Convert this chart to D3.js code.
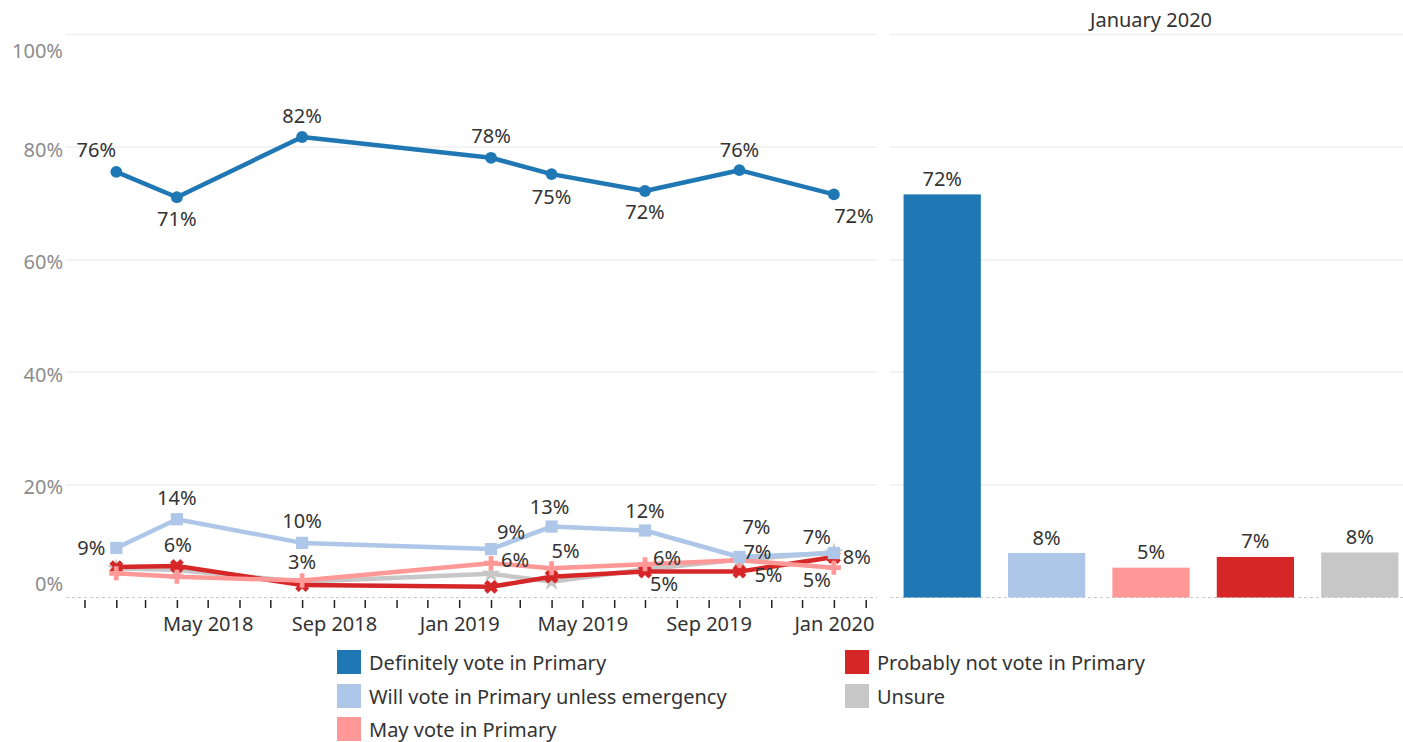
<!DOCTYPE html>
<html lang="en">
<head>
<meta charset="utf-8" />
<script src="https://d3js.org/d3.v7.min.js"></script>
<style>
  html, body { margin: 0; padding: 0; background: #fff; }
  svg { display: block; font-family: "Noto Sans", "Open Sans", sans-serif; }
</style>
</head>
<body>
<svg id="canvas" width="1403" height="742"></svg>
<script>
// survey months
var dates = ["2018-02-01", "2018-04-01", "2018-08-01", "2019-02-01", "2019-04-01", "2019-07-01", "2019-10-01", "2020-01-01"];

var seriesNames = ["Definitely vote in Primary", "Will vote in Primary unless emergency",
                   "May vote in Primary", "Probably not vote in Primary", "Unsure"];
var colors = ["#1f77b4", "#aec7e8", "#ff9896", "#d62728", "#c7c7c7"];

var definitely = [75.6, 71.1, 81.8, 78.1, 75.2, 72.2, 75.9, 71.6];
var unlessEmergency = [8.8, 13.9, 9.7, 8.6, 12.6, 11.9, 7.2, 7.9];
var mayVote = [4.3, 3.7, 3.0, 6.1, 5.2, 5.9, 6.6, 5.3];
var probablyNot = [5.4, 5.6, 2.2, 1.9, 3.7, 4.6, 4.6, 7.2];
var unsure = [5.2, 4.9, 2.8, 4.2, 2.8, 5.0, 6.7, 8.0];

var yTicks = [0, 20, 40, 60, 80, 100];

// which points carry a label: [series, point, dx, dy]
var labels = [
  [0, 0, -20, -22], [0, 1, 0, 21], [0, 2, 0, -21], [0, 3, 0, -22],
  [0, 4, 0, 22], [0, 5, 0, 20], [0, 6, 0, -21], [0, 7, 20, 21],
  [1, 0, -25, 0], [1, 1, 0, -22], [1, 2, 0, -22], [1, 3, 20, -18],
  [1, 4, -2, -20], [1, 5, 0, -20], [1, 6, 17, -30], [1, 7, 23, 3],
  [2, 2, 0, -19], [2, 3, 24, -4], [2, 4, 14, -18], [2, 5, 22, -7],
  [2, 6, 18, -9], [2, 7, -17, 12],
  [3, 1, 1, -21], [3, 5, 19, 12], [3, 6, 29, 3], [3, 7, -17, -20]
];

var values = [definitely, unlessEmergency, mayVote, probablyNot, unsure];
var parse = d3.timeParse("%Y-%m-%d");
var when = dates.map(parse);

var svg = d3.select("#canvas");

var y = d3.scaleLinear().domain([0, 100]).range([597.5, 34.5]);
var x = d3.scaleTime()
  .domain([parse("2017-12-14"), parse("2020-02-12")])
  .range([66, 877]);

var panels = [[66, 877], [890, 1403]];

// gridlines
panels.forEach(function(p) {
  svg.append("g").selectAll("line")
    .data(yTicks.filter(function(t) { return t > 0; }))
    .join("line")
    .attr("x1", p[0]).attr("x2", p[1])
    .attr("y1", function(d) { return y(d); })
    .attr("y2", function(d) { return y(d); })
    .attr("stroke", "#efefef")
    .attr("stroke-width", 1.5);
  svg.append("line")
    .attr("x1", p[0]).attr("x2", p[1])
    .attr("y1", y(0)).attr("y2", y(0))
    .attr("stroke", "#c8c8c8")
    .attr("stroke-dasharray", "3,3");
});

// y labels
svg.append("g").selectAll("text")
  .data(yTicks)
  .join("text")
  .attr("x", 63)
  .attr("y", function(d) { return y(d) + (d == 100 ? 16 : d == 0 ? -14 : 2); })
  .attr("text-anchor", "end")
  .attr("dominant-baseline", "central")
  .attr("fill", "#8c8c8c")
  .attr("font-size", 20)
  .text(function(d) { return d + "%"; });

// x axis
var fmt = d3.timeFormat("%b %Y");
var xAxis = d3.axisBottom(x)
  .ticks(d3.timeMonth.every(1))
  .tickSize(8)
  .tickPadding(9)
  .tickFormat(function(d) {
    var m = d.getMonth();
    return (m == 0 || m == 4 || m == 8) && d > parse("2018-02-01") ? fmt(d) : "";
  });
var gx = svg.append("g").attr("transform", "translate(0,600)").call(xAxis);
gx.select(".domain").remove();
gx.selectAll(".tick line").attr("stroke", "#222").attr("stroke-width", 1.5);
gx.selectAll(".tick text").attr("fill", "#333").attr("font-size", 20).attr("font-family", "Noto Sans");

// lines (draw order: bottom to top)
var order = [4, 3, 2, 1, 0];
var line = d3.line()
  .x(function(d, i) { return x(when[i]); })
  .y(function(d) { return y(d); });

var symbols = [d3.symbolCircle, d3.symbolSquare, d3.symbolCross, d3.symbolCross, d3.symbolStar];
var symbolSize = [110, 150, 110, 120, 110];
var symbolRot = [0, 0, 0, 45, 0];

order.forEach(function(s) {
  svg.append("path")
    .attr("d", line(values[s]))
    .attr("fill", "none")
    .attr("stroke", colors[s])
    .attr("stroke-width", 4.5)
    .attr("stroke-linejoin", "round");
  svg.append("g").selectAll("path")
    .data(values[s])
    .join("path")
    .attr("transform", function(d, i) {
      return "translate(" + x(when[i]) + "," + y(d) + ") rotate(" + symbolRot[s] + ")";
    })
    .attr("d", d3.symbol().type(symbols[s]).size(symbolSize[s]))
    .attr("fill", colors[s]);
});

// point labels
svg.append("g").selectAll("text")
  .data(labels)
  .join("text")
  .attr("x", function(l) { return x(when[l[1]]) + l[2]; })
  .attr("y", function(l) { return y(values[l[0]][l[1]]) + l[3]; })
  .attr("text-anchor", "middle")
  .attr("dominant-baseline", "central")
  .attr("fill", "#333")
  .attr("font-size", 20)
  .text(function(l) { return Math.round(values[l[0]][l[1]]) + "%"; });

// January 2020 bars
var last = values.map(function(v) { return v[v.length - 1]; });
var xb = d3.scaleBand().domain(seriesNames).range([890, 1412]).paddingInner(0.26).paddingOuter(0.13);

svg.append("text")
  .attr("x", 1151).attr("y", 19)
  .attr("text-anchor", "middle")
  .attr("dominant-baseline", "central")
  .attr("fill", "#333")
  .attr("font-size", 20)
  .text("January 2020");

svg.append("g").selectAll("rect")
  .data(last)
  .join("rect")
  .attr("x", function(d, i) { return xb(seriesNames[i]); })
  .attr("width", xb.bandwidth())
  .attr("y", function(d) { return y(d); })
  .attr("height", function(d) { return y(0) - y(d); })
  .attr("fill", function(d, i) { return colors[i]; });

svg.append("g").selectAll("text")
  .data(last)
  .join("text")
  .attr("x", function(d, i) { return xb(seriesNames[i]) + xb.bandwidth() / 2; })
  .attr("y", function(d) { return y(d) - 16; })
  .attr("text-anchor", "middle")
  .attr("dominant-baseline", "central")
  .attr("fill", "#333")
  .attr("font-size", 20)
  .text(function(d) { return Math.round(d) + "%"; });

// legend
var legendPos = [[337, 650], [337, 684], [337, 717], [845, 650], [845, 684]];
var lg = svg.append("g").selectAll("g")
  .data(seriesNames)
  .join("g")
  .attr("transform", function(d, i) { return "translate(" + legendPos[i][0] + "," + legendPos[i][1] + ")"; });
lg.append("rect")
  .attr("width", 24).attr("height", 24)
  .attr("fill", function(d, i) { return colors[i]; });
lg.append("text")
  .attr("x", 32).attr("y", 12)
  .attr("dominant-baseline", "central")
  .attr("fill", "#333")
  .attr("font-size", 20)
  .text(function(d) { return d; });
</script>
</body>
</html>
